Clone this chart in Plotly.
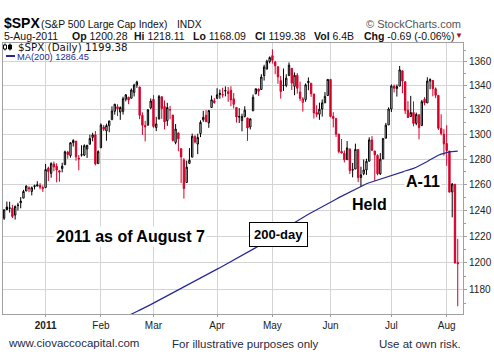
import math
import plotly.graph_objects as go

# ---------------- data (trading-day index 0 = 10-Dec-2010) ----------------
prev_close0 = 1233.00

opens = [
    1233.85, 1242.52, 1241.84, 1241.58, 1236.34, 1243.63, 1245.76, 1249.43, 1254.94, 1257.53,
    1254.66, 1259.10, 1258.78, 1259.44, 1256.76,
    1257.62, 1272.95, 1268.78, 1276.29, 1274.41, 1270.84, 1272.58, 1275.65, 1285.78, 1282.90,
    1293.22, 1294.52, 1280.85, 1283.63, 1283.29, 1288.17, 1291.97, 1297.51, 1299.63, 1276.50,
    1289.14, 1305.91, 1302.77, 1307.01, 1311.85, 1318.76, 1322.48, 1318.13, 1318.66, 1328.73,
    1330.43, 1329.51, 1334.37, 1340.38, 1338.91, 1315.44, 1307.09, 1307.34, 1321.61,
    1328.64, 1305.47, 1312.37, 1330.73, 1322.72, 1311.05, 1319.92, 1315.72, 1293.43, 1301.19,
    1288.46, 1279.46, 1261.61, 1276.71, 1281.65, 1298.29, 1292.19, 1300.61, 1311.80, 1315.45,
    1309.37, 1321.89, 1327.44,
    1329.48, 1333.56, 1332.03, 1335.94, 1334.82, 1336.16, 1329.01, 1321.96, 1314.03, 1311.13,
    1314.54, 1313.35, 1305.99, 1319.12, 1333.23, 1337.14, 1336.75, 1348.43, 1353.86, 1360.14,
    1365.21, 1359.76, 1355.90, 1344.16, 1340.24, 1340.20, 1348.34, 1354.51, 1339.39, 1348.69,
    1334.77, 1326.10, 1328.54, 1342.40, 1342.00, 1333.07, 1317.70, 1316.36, 1320.64, 1325.69,
    1331.72,
    1345.20, 1314.55, 1312.94, 1300.26, 1286.31, 1284.63, 1279.63, 1288.26, 1271.31, 1272.22,
    1287.87, 1265.53, 1268.58, 1271.50, 1278.40, 1295.48, 1286.60, 1283.04, 1268.44, 1280.21,
    1296.85, 1307.64,
    1320.64, 1339.59, 1337.56, 1339.62, 1352.39, 1343.31, 1319.61, 1314.45, 1317.74, 1308.87,
    1315.94, 1307.07, 1328.66, 1325.65, 1343.80, 1344.32, 1337.39, 1331.91, 1304.84, 1300.12,
    1292.59, 1286.56, 1254.25, 1260.23, 1200.28,
]
highs = [
    1240.40, 1246.73, 1246.59, 1244.25, 1243.75, 1245.81, 1250.20, 1255.82, 1259.39, 1258.59,
    1258.43, 1259.90, 1262.60, 1261.09, 1259.34,
    1276.17, 1274.12, 1277.63, 1278.17, 1276.83, 1271.52, 1277.25, 1286.87, 1286.70, 1293.24,
    1296.06, 1294.60, 1283.35, 1291.21, 1291.93, 1291.26, 1299.74, 1301.29, 1302.67, 1287.17,
    1308.86, 1307.61, 1308.60, 1311.00, 1322.85, 1324.87, 1324.54, 1322.78, 1330.79, 1332.96,
    1330.43, 1337.61, 1341.50, 1344.07, 1338.91, 1317.91, 1310.91, 1320.61, 1329.38,
    1332.09, 1314.19, 1332.28, 1331.08, 1327.68, 1325.74, 1323.21, 1315.72, 1308.35, 1301.19,
    1288.46, 1280.91, 1278.88, 1288.88, 1300.58, 1299.35, 1300.51, 1311.34, 1319.18, 1319.74,
    1319.45, 1331.74, 1329.77,
    1337.85, 1336.74, 1338.21, 1339.38, 1338.80, 1339.46, 1333.77, 1321.96, 1321.35, 1316.79,
    1322.88, 1313.35, 1312.70, 1332.66, 1337.49, 1337.55, 1349.55, 1357.49, 1361.71, 1364.56,
    1370.58, 1360.84, 1355.90, 1348.00, 1354.36, 1349.44, 1359.44, 1354.51, 1351.05, 1350.47,
    1343.33, 1330.42, 1341.82, 1346.82, 1342.00, 1333.07, 1323.72, 1325.86, 1328.51, 1334.62,
    1345.20,
    1345.20, 1318.03, 1312.94, 1300.26, 1296.22, 1287.04, 1294.54, 1288.26, 1277.04, 1292.50,
    1287.87, 1274.11, 1279.82, 1280.42, 1297.62, 1298.61, 1286.60, 1283.93, 1284.91, 1296.80,
    1309.21, 1321.97,
    1341.01, 1340.89, 1340.94, 1356.48, 1352.39, 1343.31, 1327.17, 1331.48, 1326.88, 1317.70,
    1315.94, 1328.14, 1330.43, 1347.00, 1346.10, 1344.32, 1338.51, 1331.91, 1316.32, 1304.16,
    1307.38, 1286.56, 1261.20, 1260.23, 1218.11,
]
lows = [
    1232.58, 1240.34, 1238.17, 1234.01, 1232.85, 1239.87, 1241.51, 1249.43, 1254.94, 1254.05,
    1251.48, 1256.22, 1258.78, 1256.32, 1254.19,
    1257.62, 1262.66, 1265.36, 1270.43, 1261.70, 1262.18, 1269.62, 1275.65, 1280.47, 1281.24,
    1290.16, 1278.92, 1271.26, 1282.07, 1282.47, 1281.07, 1291.97, 1294.41, 1275.10, 1276.50,
    1289.14, 1302.62, 1294.83, 1301.67, 1311.85, 1316.03, 1314.89, 1311.74, 1316.08, 1326.90,
    1324.61, 1329.51, 1331.00, 1338.12, 1312.33, 1299.55, 1294.26, 1307.34, 1320.55,
    1305.34, 1302.58, 1312.37, 1312.59, 1303.99, 1306.86, 1312.27, 1294.21, 1291.99, 1286.37,
    1261.12, 1249.05, 1261.61, 1276.18, 1281.65, 1292.70, 1284.05, 1297.74, 1310.15, 1310.19,
    1305.26, 1321.89, 1325.03,
    1328.89, 1329.10, 1330.03, 1331.09, 1326.56, 1322.94, 1321.06, 1309.51, 1309.19, 1302.42,
    1313.68, 1294.70, 1303.97, 1319.12, 1332.82, 1331.47, 1336.75, 1344.25, 1353.60, 1358.69,
    1358.59, 1349.52, 1341.50, 1329.17, 1335.58, 1338.64, 1348.34, 1336.36, 1332.03, 1333.36,
    1327.32, 1318.51, 1326.59, 1336.12, 1330.67, 1312.88, 1313.87, 1311.80, 1314.41, 1325.69,
    1331.72,
    1313.71, 1305.61, 1297.90, 1284.72, 1284.74, 1277.42, 1279.63, 1268.28, 1265.64, 1272.22,
    1261.90, 1258.07, 1267.40, 1267.56, 1278.40, 1286.79, 1262.87, 1267.24, 1267.53, 1280.21,
    1296.85, 1307.64,
    1318.18, 1334.30, 1330.92, 1339.62, 1333.71, 1316.42, 1313.33, 1314.45, 1306.51, 1307.35,
    1295.92, 1307.07, 1323.65, 1325.65, 1336.95, 1331.09, 1329.59, 1303.49, 1299.16, 1282.86,
    1274.73, 1254.03, 1234.56, 1199.54, 1168.09,
]
closes = [
    1240.40, 1240.46, 1241.59, 1235.23, 1242.87, 1243.91, 1247.08, 1254.60, 1258.84, 1256.77,
    1257.54, 1258.51, 1259.78, 1257.88, 1257.64,
    1271.87, 1270.20, 1276.56, 1273.85, 1271.50, 1269.75, 1274.48, 1285.96, 1283.76, 1293.24,
    1295.02, 1281.92, 1280.26, 1283.35, 1290.84, 1291.18, 1296.63, 1299.54, 1276.34, 1286.12,
    1307.59, 1304.03, 1307.10, 1310.87, 1319.05, 1324.57, 1320.88, 1321.87, 1329.15, 1332.32,
    1328.01, 1336.32, 1340.43, 1343.01, 1315.44, 1307.40, 1306.10, 1319.88, 1327.22,
    1306.33, 1308.44, 1330.97, 1321.15, 1310.13, 1321.82, 1320.02, 1295.11, 1304.28, 1296.39,
    1281.87, 1256.88, 1273.72, 1279.21, 1298.38, 1293.77, 1297.54, 1309.66, 1313.80, 1310.19,
    1319.44, 1328.26, 1325.83,
    1332.41, 1332.87, 1332.63, 1335.54, 1333.51, 1328.17, 1324.46, 1314.16, 1314.41, 1314.52,
    1319.68, 1305.14, 1312.62, 1330.36, 1337.38, 1335.25, 1347.24, 1355.66, 1360.48, 1363.61,
    1361.22, 1356.62, 1347.32, 1335.10, 1340.20, 1346.29, 1357.16, 1342.08, 1348.65, 1337.77,
    1329.47, 1328.98, 1340.68, 1343.60, 1333.27, 1317.37, 1316.28, 1320.47, 1325.69, 1331.10,
    1345.20,
    1314.55, 1312.94, 1300.16, 1286.17, 1284.94, 1279.56, 1289.00, 1270.98, 1271.83, 1287.87,
    1265.42, 1267.64, 1271.50, 1278.36, 1295.52, 1287.14, 1283.50, 1268.45, 1280.10, 1296.67,
    1307.41, 1320.64,
    1339.67, 1337.88, 1339.22, 1353.22, 1343.80, 1319.49, 1313.64, 1317.72, 1308.87, 1316.14,
    1305.44, 1326.73, 1325.84, 1343.80, 1345.02, 1337.43, 1331.94, 1304.89, 1300.67, 1292.28,
    1286.94, 1254.05, 1260.34, 1200.07, 1199.38,
]

# 200-day moving average (starts at trading-day index 44)
ma_start = 44
ma200 = [
    1160.5, 1161.6, 1162.5, 1163.4, 1164.3, 1165.3, 1166.2, 1167.2, 1168.2, 1169.3,
    1170.4, 1171.5, 1172.6, 1173.7, 1174.8, 1175.9, 1177.0, 1178.1, 1179.2, 1180.3,
    1181.4, 1182.5, 1183.6, 1184.7, 1185.8, 1186.9, 1188.0, 1189.1, 1190.2, 1191.3,
    1192.3, 1193.4, 1194.4, 1195.4, 1196.5, 1197.6, 1198.7, 1199.9, 1201.0, 1202.1,
    1203.3, 1204.4, 1205.5, 1206.6, 1207.8, 1208.9, 1210.2, 1211.5, 1212.8, 1214.1,
    1215.4, 1216.8, 1218.1, 1219.5, 1220.9, 1222.3, 1223.7, 1225.0, 1226.4, 1227.8,
    1229.2, 1230.6, 1232.0, 1233.4, 1234.6, 1235.8, 1237.0, 1238.1, 1239.2, 1240.3,
    1241.4, 1242.6, 1243.8, 1245.0, 1246.2, 1247.4, 1248.6, 1249.8, 1250.9, 1252.1,
    1253.2, 1254.3, 1255.4, 1256.5, 1257.6, 1258.7, 1259.7, 1260.6, 1261.4, 1262.1,
    1262.8, 1263.4, 1264.0, 1264.6, 1265.2, 1265.8, 1266.5, 1267.2, 1268.0, 1268.8,
    1269.6, 1270.4, 1271.2, 1272.0, 1272.8, 1273.6, 1274.6, 1275.7, 1276.9, 1278.2,
    1279.6, 1281.0, 1282.2, 1283.2, 1284.1, 1284.9, 1285.5, 1285.9, 1286.1, 1286.3,
    1286.45,
]

month_ticks = [15, 35, 54, 77, 97, 118, 140, 160]
month_labels = ["<b>2011</b>", "Feb", "Mar", "Apr", "May", "Jun", "Jul", "Aug"]
price_ticks = [1180, 1200, 1220, 1240, 1260, 1280, 1300, 1320, 1340, 1360]
minor_ticks = [1170, 1190, 1210, 1230, 1250, 1270, 1290, 1310, 1330, 1350, 1370]

# ---------------- figure ----------------
RED = "#d6002a"
BLACK = "#000000"
NAVY = "#27279a"

n = len(closes)
idx = list(range(n))
prev = [prev_close0] + closes[:-1]
up_day = [closes[i] >= prev[i] for i in idx]


def subset(flag):
    x, o, h, l, c = [], [], [], [], []
    for i in idx:
        if up_day[i] == flag:
            x.append(i); o.append(opens[i]); h.append(highs[i]); l.append(lows[i]); c.append(closes[i])
    return x, o, h, l, c


fig = go.Figure()
for flag, col in [(True, BLACK), (False, RED)]:
    x, o, h, l, c = subset(flag)
    fig.add_trace(go.Candlestick(
        x=x, open=o, high=h, low=l, close=c,
        increasing=dict(line=dict(color=col, width=1), fillcolor="white"),
        decreasing=dict(line=dict(color=col, width=1), fillcolor=col),
        whiskerwidth=0, showlegend=False, hoverinfo="skip",
    ))

fig.add_trace(go.Scatter(
    x=list(range(ma_start, ma_start + len(ma200))), y=ma200, mode="lines",
    line=dict(color=NAVY, width=1.2), showlegend=False, hoverinfo="skip",
))

# plot-area pixel geometry helpers
L, R, T, B = 3, 463, 43, 314
W, H = R - L, B - T


def px(x):
    return (x - L) / W


def py(y):
    return (B - y) / H


ymin, ymax = 1162.5, 1376.0

fig.update_layout(
    width=494, height=362,
    margin=dict(l=L, r=494 - R, t=T, b=362 - B, autoexpand=False),
    paper_bgcolor="white", plot_bgcolor="white",
    font=dict(family="Arial, Liberation Sans", size=10, color="#222222"),
    showlegend=False,
    xaxis=dict(
        range=[-0.4, 165.9], rangeslider=dict(visible=False),
        tickmode="array", tickvals=month_ticks, ticktext=month_labels,
        showgrid=True, gridcolor="#d4d4d4", gridwidth=1,
        showline=True, linecolor="#a0a0a0", linewidth=1, mirror=True,
        ticks="outside", ticklen=2, tickcolor="#a0a0a0",
        tickfont=dict(size=10, color="#222222"), zeroline=False,
    ),
    yaxis=dict(
        type="log", side="right",
        range=[math.log10(ymin), math.log10(ymax)],
        tickmode="array", tickvals=price_ticks, ticktext=[str(v) for v in price_ticks],
        showgrid=True, gridcolor="#d4d4d4", gridwidth=1,
        showline=True, linecolor="#a0a0a0", linewidth=1, mirror=True,
        ticks="outside", ticklen=3, tickcolor="#a0a0a0",
        minor=dict(tickmode="array", tickvals=minor_ticks, ticks="outside", ticklen=2,
                   tickcolor="#a0a0a0", showgrid=False),
        tickfont=dict(size=10, color="#222222"), zeroline=False,
    ),
)

ann = []


def text(x, y, s, size=11, color="#111111", anchor="left", family="Arial, Liberation Sans", **kw):
    ann.append(dict(x=px(x), y=py(y), xref="paper", yref="paper", text=s, showarrow=False,
                    xanchor=anchor, yanchor="middle",
                    font=dict(size=size, color=color, family=family), **kw))


# header
text(2, 23.5, "<b>$SPX</b>", size=14, color="#000000")
text(39, 24, "(S&P 500 Large Cap Index)", size=10.3)
text(175, 24, "INDX", size=10.3)
text(463, 24, "© StockCharts.com", size=11, color="#555555", anchor="right")
text(2, 35.5, "5-Aug-2011", size=10.5)
text(70, 35.5, "<b>Op</b> 1200.28", size=10.5)
text(132, 35.5, "<b>Hi</b> 1218.11", size=10.5)
text(191, 35.5, "<b>Lo</b> 1168.09", size=10.5)
text(253, 35.5, "<b>Cl</b> 1199.38", size=10.5)
text(312, 35.5, "<b>Vol</b> 6.4B", size=10.5)
text(362, 35.5, "<b>Chg</b> -0.69 (-0.06%)", size=10.5)
text(459, 35.5, "▼", size=8, color="#a0102a", anchor="center")

# in-plot legend
text(17, 46.5, "$SPX (Daily) 1199.38", size=10.3, color="#111111", family="DejaVu Sans",
     borderpad=0)
text(15.5, 56.5, "MA(200) 1286.45", size=9.3, color=NAVY, family="Arial, Liberation Sans",
     borderpad=0)

# chart notes
text(130.5, 236.5, "<b>2011 as of August 7</b>", size=16, color="#000000", anchor="center",
     bgcolor="white")
text(369.5, 204.5, "<b>Held</b>", size=16, color="#000000", anchor="center", bgcolor="white")
text(423, 181.5, "<b>A-11</b>", size=16, color="#000000", anchor="center", bgcolor="white")
text(278.5, 234.5, "<b>200-day</b>", size=13, color="#000000", anchor="center",
     bgcolor="white", bordercolor="#000000", borderwidth=1, borderpad=4)

# footer
text(6, 343, "www.ciovaccocapital.com", size=11.5, color="#1f2a44")
text(246, 343.5, "For illustrative purposes only", size=11.5, color="#1f2a44", anchor="center")
text(463, 344, "Use at own risk.", size=11.5, color="#1f2a44", anchor="right")

fig.update_layout(annotations=ann)

# legend glyphs (small candle icon and MA dash)
shapes = [
    dict(type="line", xref="paper", yref="paper", x0=px(6), x1=px(15), y0=py(56), y1=py(56),
         line=dict(color=NAVY, width=2)),
    dict(type="line", xref="paper", yref="paper", x0=px(5), x1=px(5), y0=py(43.5), y1=py(50.5),
         line=dict(color="#000000", width=1)),
    dict(type="rect", xref="paper", yref="paper", x0=px(3.5), x1=px(6.5), y0=py(45), y1=py(49),
         line=dict(color="#000000", width=1), fillcolor="white"),
    dict(type="line", xref="paper", yref="paper", x0=px(10), x1=px(10), y0=py(43.5), y1=py(50.5),
         line=dict(color="#000000", width=1)),
    dict(type="rect", xref="paper", yref="paper", x0=px(8.5), x1=px(11.5), y0=py(45), y1=py(49),
         line=dict(color="#000000", width=1), fillcolor="#000000"),
]
fig.update_layout(shapes=shapes)

fig.write_html("out.html", config={"displayModeBar": False})

# remove the default page margin so the figure sits at the window's top-left corner
with open("out.html", "r", encoding="utf-8") as f:
    page = f.read()
page = page.replace("<head>", "<head><style>html,body{margin:0;padding:0;overflow:hidden;}</style>", 1)
with open("out.html", "w", encoding="utf-8") as f:
    f.write(page)
